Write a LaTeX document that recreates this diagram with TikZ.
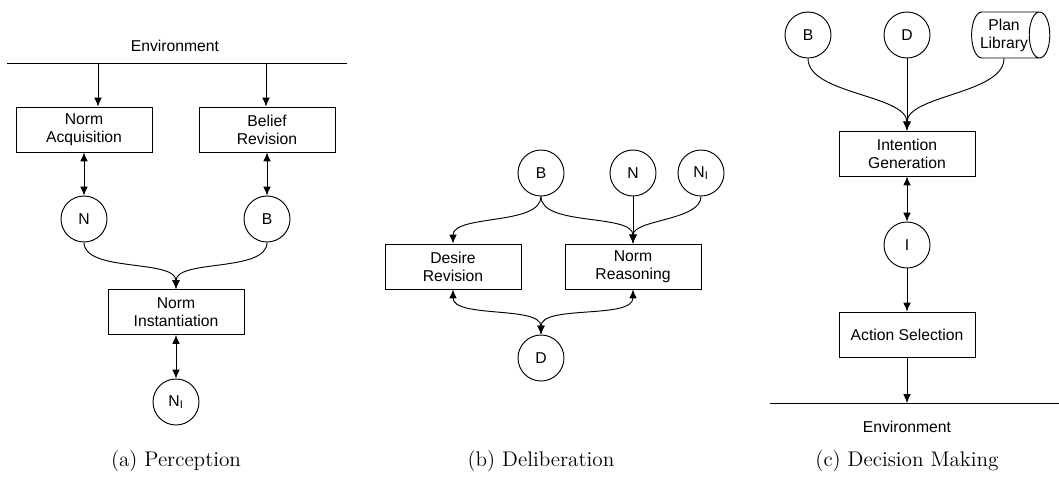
\documentclass[tikz,border=0pt]{standalone}
\usepackage{fontspec}
\setsansfont{Liberation Sans}
\usepackage{tikz}
\usetikzlibrary{arrows.meta, calc, positioning, shapes.geometric}

\tikzset{
    >={Latex[length=5.6pt,width=4.8pt]},
    proc/.style={draw, rectangle, minimum width=86.6pt, minimum height=28.7pt, inner sep=1pt,
        align=center, font=\sffamily\fontsize{10}{11.5}\selectfont},
    store/.style={draw, circle, minimum size=29.3pt, inner sep=0pt, font=\sffamily\fontsize{10}{11.5}\selectfont},
    lib/.style={draw, cylinder, shape aspect=0.6, minimum width=29.3pt, minimum height=48pt,
        inner sep=0.5pt, align=center, font=\sffamily\fontsize{10}{11.5}\selectfont},
    envtext/.style={font=\sffamily\fontsize{10}{12}\selectfont},
    capt/.style={font=\fontsize{13.5}{16}\selectfont},
    flow/.style={->, line width=0.6pt},
    link/.style={<->, line width=0.6pt},
    sweep/.style={out=-90, in=90, looseness=0.75},
}

\begin{document}
\begin{tikzpicture}[x=0.637pt, y=0.637pt, line width=0.6pt]
    \useasboundingbox (0,0) rectangle (1059,-494);

    % (a) Perception
    \begin{scope}[shift={(176,0)}]
        \node[envtext] (envA) at (-1,-46) {Environment};
        \draw (-169,-63) -- (171,-63);
        \coordinate (envA1) at (-78,-63);
        \coordinate (envA2) at (90,-63);
        \node[proc] (acqA) at (-92,-129.5) {Norm\\Acquisition};
        \node[proc] (belA) at (91,-129.5) {Belief\\Revision};
        \node[store] (nA) at (-92,-219) {N};
        \node[store] (bA) at (91,-219) {B};
        \node[proc] (instA) at (0,-312) {Norm\\Instantiation};
        \node[store] (niA) at (0,-402) {N\textsubscript{I}};
        \draw[flow] (envA1) -- (envA1 |- acqA.north);
        \draw[flow] (envA2) -- (envA2 |- belA.north);
        \draw[link] (acqA) -- (nA);
        \draw[link] (belA) -- (bA);
        \draw[flow] (nA.south) to[sweep] (instA.north);
        \draw[flow] (bA.south) to[sweep] (instA.north);
        \draw[link] (instA) -- (niA);
        \node[capt] (captA) at (0,-461) {(a) Perception};
    \end{scope}

    % (b) Deliberation
    \begin{scope}[shift={(541,0)}]
        \node[store] (bB) at (0,-173) {B};
        \node[store] (nB) at (92,-173) {N};
        \node[store] (niB) at (160,-173) {N\textsubscript{I}};
        \node[proc] (desB) at (-88,-266.5) {Desire\\Revision};
        \node[proc] (reaB) at (92,-266.5) {Norm\\Reasoning};
        \node[store] (dB) at (0,-358) {D};
        \draw[flow] (bB.south) to[sweep] (desB.north);
        \draw[flow] (bB.south) to[sweep] (reaB.north);
        \draw[flow] (nB) -- (reaB);
        \draw[flow] (niB.south) to[sweep] (reaB.north);
        \draw[link] (desB.south) to[sweep] (dB.north);
        \draw[link] (reaB.south) to[sweep] (dB.north);
        \node[capt] (captB) at (0,-461) {(b) Deliberation};
    \end{scope}

    % (c) Decision Making
    \begin{scope}[shift={(907,0)}]
        \node[store] (bC) at (-99,-35) {B};
        \node[store] (dC) at (0,-35) {D};
        \node[lib] (libC) at (97,-35) {Plan\\Library};
        \node[proc] (intC) at (0,-153.5) {Intention\\Generation};
        \node[store] (iC) at (0,-245) {I};
        \node[proc] (actC) at (0,-334.5) {Action Selection};
        \draw (-137,-403) -- (152,-403);
        \coordinate (envC1) at (0,-403);
        \node[envtext] (envC) at (0,-427) {Environment};
        \draw[flow] (bC.south) to[sweep] (intC.north);
        \draw[flow] (dC) -- (intC);
        \draw[flow] (libC.south) to[sweep] (intC.north);
        \draw[link] (intC) -- (iC);
        \draw[flow] (iC) -- (actC);
        \draw[flow] (actC) -- (envC1);
        \node[capt] (captC) at (0,-461) {(c) Decision Making};
    \end{scope}
\end{tikzpicture}
\end{document}
